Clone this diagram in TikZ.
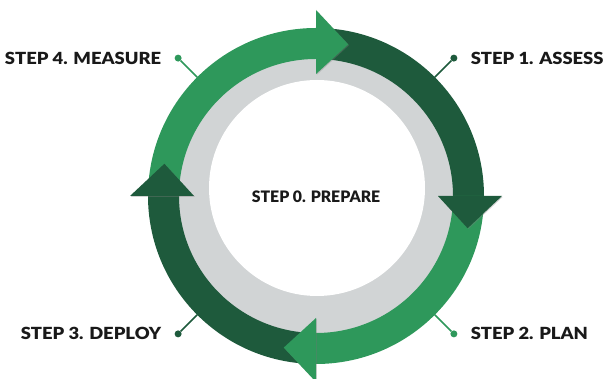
\documentclass[tikz,border=0pt]{standalone}
\usepackage{fontspec}
\newfontfamily\stepfont{Lato Black}[FakeStretch=1.1]
\newfontfamily\hubfont{Lato Black}
\usetikzlibrary{positioning, shadows}
\definecolor{lgreen}{HTML}{2E985B}
\definecolor{dgreen}{HTML}{1E5A3C}
\definecolor{ringgray}{HTML}{D1D4D5}
\tikzset{
  arcband/.style={fill=#1},
  arrhead/.style={fill=#1, drop shadow={shadow xshift=0.8pt, shadow yshift=-0.8pt, opacity=0.35}},
  stepdot/.style={circle, fill=#1, inner sep=0pt, minimum size=7pt},
  steplbl/.style={font=\stepfont\fontsize{16.7}{18}\selectfont, text=black!90, inner sep=0pt}
}
\tikzstyle{leader} = [line width=1.6pt]

\begin{document}
\begin{tikzpicture}[x=1pt, y=1pt]
    \useasboundingbox (0,0) rectangle (608,379);
    \coordinate (c) at (316,183);

    % grey ring behind the cycle
    \fill[ringgray] (c) circle[radius=140];
    \fill[white] (317,191) circle[radius=108];

    % the four arcs, clockwise
    \fill[arcband=lgreen] ([shift={(c)}]180:168) arc[start angle=180, end angle=90, radius=168] -- ([shift={(c)}]90:137) arc[start angle=90, end angle=180, radius=137] -- cycle;
    \fill[arcband=dgreen] ([shift={(c)}]90:168) arc[start angle=90, end angle=0, radius=168] -- ([shift={(c)}]0:137) arc[start angle=0, end angle=90, radius=137] -- cycle;
    \fill[arcband=lgreen] ([shift={(c)}]0:168) arc[start angle=0, end angle=-90, radius=168] -- ([shift={(c)}]-90:137) arc[start angle=-90, end angle=0, radius=137] -- cycle;
    \fill[arcband=dgreen] ([shift={(c)}]-90:168) arc[start angle=-90, end angle=-180, radius=168] -- ([shift={(c)}]180:137) arc[start angle=180, end angle=270, radius=137] -- cycle;

    % heads on top
    \fill[arrhead=lgreen] ([shift={(c)}]90:122) -- ([shift={(c)}]90:186) -- ([shift={(c)}]78:155) -- cycle;
    \fill[arrhead=dgreen] ([shift={(c)}]0:122) -- ([shift={(c)}]0:186) -- ([shift={(c)}]-12:155) -- cycle;
    \fill[arrhead=lgreen] ([shift={(c)}]-90:122) -- ([shift={(c)}]-90:186) -- ([shift={(c)}]-102:155) -- cycle;
    \fill[arrhead=dgreen] ([shift={(c)}]180:122) -- ([shift={(c)}]180:186) -- ([shift={(c)}]168:155) -- cycle;

    % labels
    \node[stepdot=dgreen] (d1) at ([shift={(c)}]45:195) {};
    \node[stepdot=lgreen] (d2) at ([shift={(c)}]-45:195) {};
    \node[stepdot=dgreen] (d3) at ([shift={(c)}]-135:195) {};
    \node[stepdot=lgreen] (d4) at ([shift={(c)}]135:195) {};
    \coordinate (e1) at ([shift={(c)}]45:168);
    \coordinate (e2) at ([shift={(c)}]-45:168);
    \coordinate (e3) at ([shift={(c)}]-135:168);
    \coordinate (e4) at ([shift={(c)}]135:168);
    \draw[leader, dgreen] (e1) -- (d1);
    \draw[leader, lgreen] (e2) -- (d2);
    \draw[leader, dgreen] (e3) -- (d3);
    \draw[leader, lgreen] (e4) -- (d4);

    \node[steplbl, right=13pt of d1] (s1) {STEP 1. ASSESS};
    \node[steplbl, right=13pt of d2] (s2) {STEP 2. PLAN};
    \node[steplbl, left=13pt of d3] (s3) {STEP 3. DEPLOY};
    \node[steplbl, left=13pt of d4] (s4) {STEP 4. MEASURE};
    \node[steplbl, font=\hubfont\fontsize{15.8}{17}\selectfont] (s0) at ([yshift=-1pt]c) {STEP 0. PREPARE};
\end{tikzpicture}
\end{document}
